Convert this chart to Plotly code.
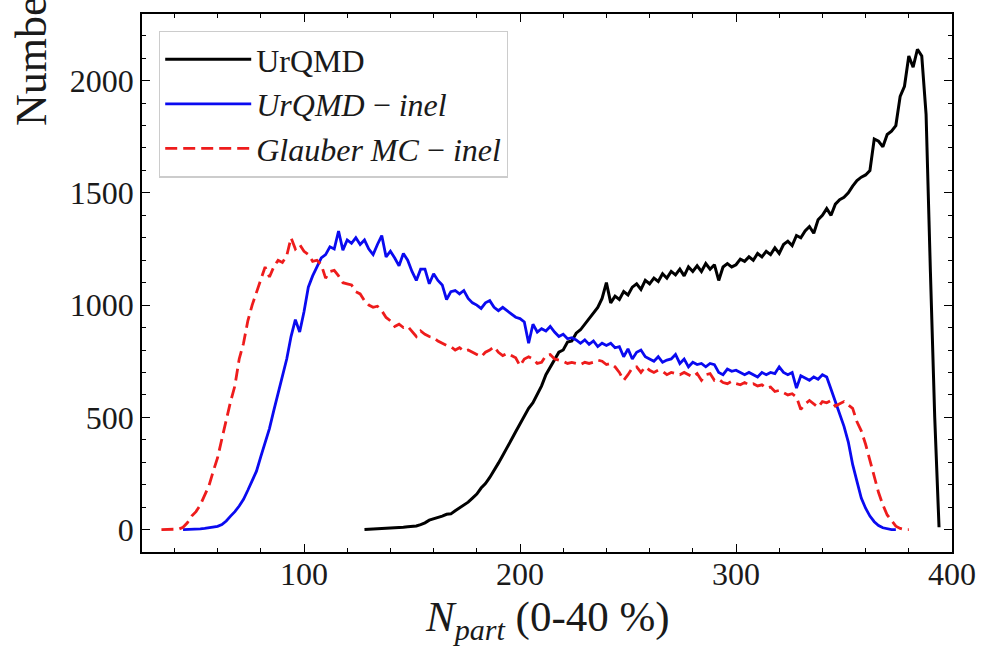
import plotly.graph_objects as go

# Participant-number distributions (bin width 2), 0-40 % centrality
npart_start_urqmd = 128
urqmd = [
    0, 1, 2, 2, 3, 4, 5, 7, 6, 10,
    12, 14, 16, 22, 30, 42, 48, 52, 60, 68,
    70, 84, 96, 108, 122, 140, 158, 185, 205, 232,
    262, 296, 330, 362, 400, 436, 470, 505, 540, 565,
    600, 640, 690, 725, 755, 790, 800, 835, 840, 875,
    890, 915, 935, 960, 990, 1030, 1100, 1010, 1040, 1025,
    1060, 1045, 1080, 1095, 1070, 1110, 1095, 1120, 1105, 1140,
    1120, 1150, 1135, 1160, 1130, 1170, 1150, 1175, 1150, 1185,
    1160, 1180, 1110, 1170, 1185, 1170, 1180, 1205, 1195, 1215,
    1200, 1230, 1215, 1240, 1225, 1255, 1230, 1270, 1285, 1265,
    1310, 1300, 1330, 1350, 1320, 1380, 1400, 1430, 1400, 1450,
    1470, 1480, 1500, 1530, 1555, 1570, 1580, 1600, 1740, 1730,
    1705, 1760, 1775, 1800, 1930, 1975, 2110, 2060, 2140, 2110,
    1850, 1150, 500, 10,
]

npart_start_urqmd_inel = 44
urqmd_inel = [
    0, 0, 1, 2, 3, 5, 7, 10, 14, 22,
    38, 60, 80, 105, 135, 175, 215, 260, 325, 385,
    450, 530, 610, 680, 760, 860, 935, 880, 970, 1080,
    1130, 1170, 1210, 1225, 1260, 1250, 1330, 1245, 1290, 1275,
    1300, 1270, 1290, 1250, 1225, 1270, 1310, 1215, 1240, 1210,
    1175, 1230, 1200, 1150, 1110, 1160, 1160, 1095, 1140, 1110,
    1090, 1025, 1060, 1065, 1050, 1065, 1030, 1010, 1000, 985,
    1010, 1020, 990, 975, 990, 975, 960, 946, 940, 925,
    830, 915, 880, 895, 885, 905, 880, 860, 870, 850,
    855, 845, 830, 845, 825, 840, 815, 830, 820, 830,
    810, 815, 770, 805, 760, 790, 800, 770, 760, 750,
    770, 745, 755, 760, 780, 740, 760, 725, 745, 735,
    740, 725, 740, 735, 700, 690, 715, 705, 710, 700,
    690, 700, 690, 680, 700, 690, 700, 695, 725, 700,
    690, 700, 630, 685, 675, 665, 680, 670, 690, 680,
    625, 570, 505, 460, 390, 290, 215, 140, 95, 60,
    35, 18, 8, 3, 0, 0,
]

npart_start_glauber = 34
glauber_inel = [
    0, 0, 0, 0, 2, 10, 30, 60, 80, 110,
    150, 195, 260, 320, 405, 490, 570, 640, 760, 830,
    930, 1000, 1060, 1110, 1170, 1125, 1170, 1200, 1190, 1220,
    1300, 1250, 1270, 1240, 1225, 1195, 1200, 1180, 1120, 1150,
    1155, 1130, 1100, 1095, 1090, 1060, 1050, 1020, 1000, 990,
    995, 975, 945, 930, 905, 915, 900, 905, 880, 860,
    885, 870, 860, 855, 840, 830, 820, 815, 800, 810,
    795, 800, 790, 780, 770, 790, 800, 815, 790, 775,
    785, 775, 765, 730, 760, 770, 760, 740, 745, 775,
    780, 760, 755, 750, 740, 745, 740, 735, 745, 740,
    745, 755, 750, 735, 740, 725, 700, 665, 690, 720,
    725, 700, 725, 710, 700, 710, 705, 690, 700, 695,
    690, 700, 690, 680, 695, 665, 690, 695, 665, 670,
    655, 650, 660, 650, 645, 655, 645, 650, 640, 645,
    630, 635, 615, 620, 610, 600, 605, 590, 535, 560,
    575, 560, 545, 570, 565, 575, 550, 560, 570, 555,
    540, 480, 440, 380, 310, 235, 165, 110, 65, 40,
    15, 5, 0, 0,
]

BIN = 2
x_ticks = [100, 200, 300, 400]
y_ticks = [0, 500, 1000, 1500, 2000]


def bins(start, values):
    return [start + BIN * i for i in range(len(values))]


SERIF = "Liberation Serif, DejaVu Serif, serif"

fig = go.Figure()
fig.add_trace(go.Scatter(
    x=bins(npart_start_urqmd, urqmd), y=urqmd, mode="lines",
    name="UrQMD", line=dict(color="black", width=3),
))
fig.add_trace(go.Scatter(
    x=bins(npart_start_urqmd_inel, urqmd_inel), y=urqmd_inel, mode="lines",
    name="<i>UrQMD</i> − <i>inel</i>", line=dict(color="#0a0af0", width=2.8),
))
fig.add_trace(go.Scatter(
    x=bins(npart_start_glauber, glauber_inel), y=glauber_inel, mode="lines",
    name="<i>Glauber MC</i> − <i>inel</i>",
    line=dict(color="#ee1c1c", width=2.8, dash="12px,6px"),
))

axis_common = dict(
    showline=True, linecolor="black", linewidth=1.5, mirror="allticks",
    ticks="inside", ticklen=8, tickwidth=1.3, tickcolor="black",
    showgrid=False, zeroline=False,
    tickfont=dict(family=SERIF, size=32, color="#1a1a1a"),
)

fig.update_xaxes(
    range=[25, 400], tickvals=x_ticks, ticklabelstandoff=-7,
    minor=dict(dtick=20, tick0=0, ticks="inside", ticklen=4, tickwidth=1.1,
               tickcolor="black"),
    **axis_common,
)
fig.update_yaxes(
    range=[-100, 2297], tickvals=y_ticks,
    minor=dict(dtick=100, tick0=0, ticks="inside", ticklen=4, tickwidth=1.1,
               tickcolor="black"),
    **axis_common,
)

fig.add_annotation(
    xref="paper", yref="paper", x=0.5, y=-0.072, xanchor="center",
    yanchor="top", showarrow=False,
    text="<i>N</i><sub><i>part</i></sub> (0-40 %)",
    font=dict(family=SERIF, size=43, color="#1a1a1a"),
)
fig.add_annotation(
    xref="paper", yref="paper", x=-0.137, y=0.787, xanchor="center",
    yanchor="bottom", showarrow=False, textangle=-90,
    text="Number of events",
    font=dict(family=SERIF, size=44, color="#1a1a1a"),
)

fig.update_layout(
    width=988, height=649,
    margin=dict(l=142, r=29, t=13, b=97),
    paper_bgcolor="white", plot_bgcolor="white",
    showlegend=True,
    legend=dict(
        x=0.021, y=0.969, xanchor="left", yanchor="top",
        bgcolor="rgba(255,255,255,0.85)", bordercolor="#cccccc",
        borderwidth=1.2, itemwidth=86,
        font=dict(family=SERIF, size=32, color="#1a1a1a"),
        tracegroupgap=0,
    ),
)

fig.write_html("out.html")
